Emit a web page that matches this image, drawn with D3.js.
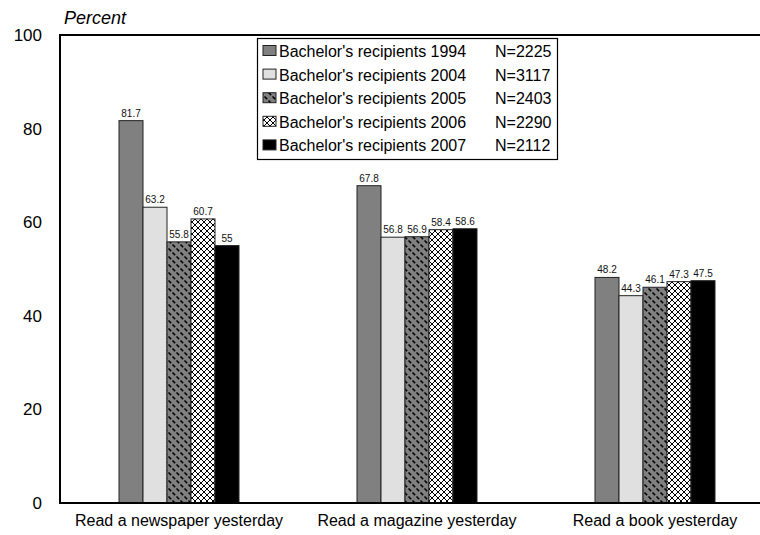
<!DOCTYPE html>
<html>
<head>
<meta charset="utf-8">
<script src="https://cdn.jsdelivr.net/npm/d3@7"></script>
<style>
  html, body { margin: 0; padding: 0; background: #fff; }
  svg { display: block; font-family: "Liberation Sans", Arial, sans-serif; }
</style>
</head>
<body>
<svg id="chart" width="760" height="535"></svg>
<script>
const categories = ["Read a newspaper yesterday", "Read a magazine yesterday", "Read a book yesterday"];
const seriesNames = ["Bachelor's recipients 1994", "Bachelor's recipients 2004", "Bachelor's recipients 2005", "Bachelor's recipients 2006", "Bachelor's recipients 2007"];
const seriesN = ["N=2225", "N=3117", "N=2403", "N=2290", "N=2112"];
const values1994 = [81.7, 67.8, 48.2];
const values2004 = [63.2, 56.8, 44.3];
const values2005 = [55.8, 56.9, 46.1];
const values2006 = [60.7, 58.4, 47.3];
const values2007 = [55, 58.6, 47.5];
const yTicks = [0, 20, 40, 60, 80, 100];

const seriesValues = [values1994, values2004, values2005, values2006, values2007];
const fills = ["#808080", "#e0e0e0", "url(#pDots)", "url(#pCross)", "#000000"];

const svg = d3.select("#chart");
const defs = svg.append("defs");

// dashed diagonal pattern on gray
const p1 = defs.append("pattern").attr("id", "pDots").attr("patternUnits", "userSpaceOnUse")
  .attr("width", 8).attr("height", 8);
p1.append("rect").attr("width", 8).attr("height", 8).attr("fill", "#808080");
p1.append("path").attr("d", "M1,1L2.6,2.6M5,5L6.6,6.6")
  .attr("stroke", "#000").attr("stroke-width", 1.5).attr("stroke-linecap", "square");

// crosshatch pattern
const p2 = defs.append("pattern").attr("id", "pCross").attr("patternUnits", "userSpaceOnUse")
  .attr("width", 6).attr("height", 6);
p2.append("rect").attr("width", 6).attr("height", 6).attr("fill", "#fff");
p2.append("path").attr("d", "M0,0L6,6M6,0L0,6M-1,5L1,7M5,-1L7,1M-1,1L1,-1M5,7L7,5")
  .attr("stroke", "#000").attr("stroke-width", 1);

const mLeft = 60, mRight = 774, mTop = 35, mBottom = 503;
const x = d3.scaleBand().domain(categories).range([mLeft, mRight]);
const groupW = 120;
const xs = d3.scaleBand().domain(d3.range(seriesNames.length)).range([0, groupW]);
const y = d3.scaleLinear().domain([0, 100]).range([mBottom, mTop]);

// bars
categories.forEach((cat, ci) => {
  const gx0 = x(cat) + (x.bandwidth() - groupW) / 2;
  seriesValues.forEach((vals, si) => {
    const v = vals[ci];
    svg.append("rect")
      .attr("x", gx0 + xs(si))
      .attr("y", y(v))
      .attr("width", xs.bandwidth())
      .attr("height", y(0) - y(v))
      .attr("fill", fills[si])
      .attr("stroke", "#222")
      .attr("stroke-width", 1);
    svg.append("text")
      .attr("x", gx0 + xs(si) + xs.bandwidth() / 2)
      .attr("y", y(v) - 4)
      .attr("text-anchor", "middle")
      .attr("font-size", 10)
      .attr("fill", "#111")
      .text(v);
  });
});

// frame
svg.append("path")
  .attr("d", `M${mRight + 20},${mTop}H${mLeft}V${mBottom}H${mRight + 20}`)
  .attr("fill", "none").attr("stroke", "#000").attr("stroke-width", 2);

// y axis labels
const yAxis = d3.axisLeft(y).tickValues(yTicks).tickSize(0).tickPadding(18);
const gy = svg.append("g").attr("transform", `translate(${mLeft},0)`).call(yAxis);
gy.select(".domain").remove();
gy.selectAll("text").attr("font-size", 17).attr("font-family", "Liberation Sans, Arial, sans-serif").attr("fill", "#000");

// x axis labels
const xAxis = d3.axisBottom(x).tickSize(0).tickPadding(12);
const gxa = svg.append("g").attr("transform", `translate(0,${mBottom})`).call(xAxis);
gxa.select(".domain").remove();
gxa.selectAll("text").attr("font-size", 16).attr("font-family", "Liberation Sans, Arial, sans-serif").attr("fill", "#000");

// y title
svg.append("text").attr("x", 64).attr("y", 24).attr("font-size", 18)
  .attr("font-style", "italic").text("Percent");

// legend
const lg = svg.append("g");
lg.append("rect").attr("x", 257.5).attr("y", 38.5).attr("width", 300).attr("height", 121)
  .attr("fill", "#fff").attr("stroke", "#000").attr("stroke-width", 1.2);
seriesNames.forEach((name, i) => {
  const cy = 51 + i * 23.6;
  lg.append("rect").attr("x", 263).attr("y", cy - 5.5).attr("width", 13).attr("height", 10)
    .attr("fill", fills[i]).attr("stroke", "#222").attr("stroke-width", 1);
  lg.append("text").attr("x", 279).attr("y", cy + 6).attr("font-size", 16).text(name);
  lg.append("text").attr("x", 495).attr("y", cy + 6).attr("font-size", 16).text(seriesN[i]);
});
</script>
</body>
</html>
